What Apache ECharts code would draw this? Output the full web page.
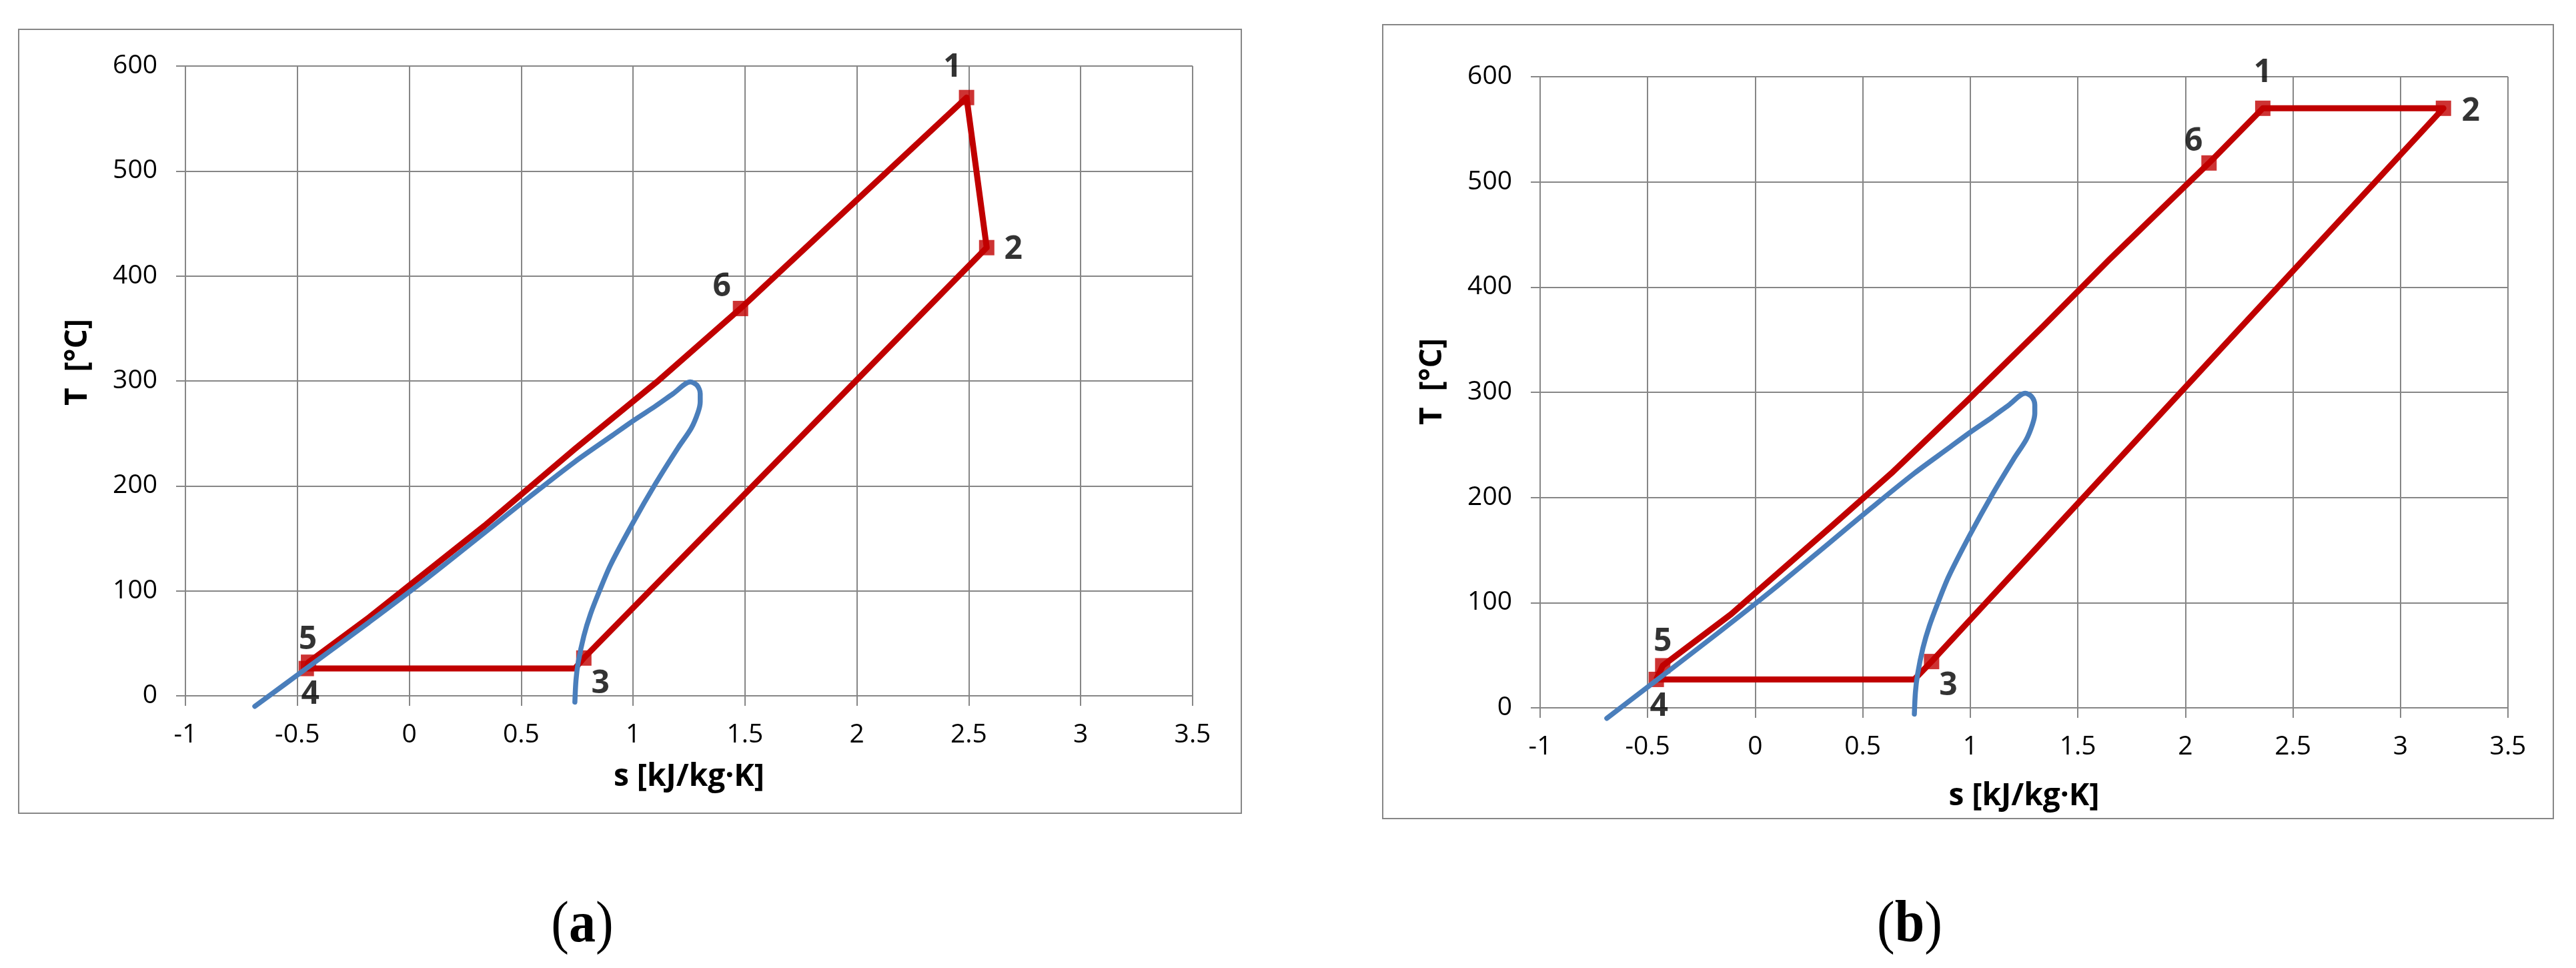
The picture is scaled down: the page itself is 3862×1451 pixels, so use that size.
<!DOCTYPE html>
<html>
<head>
<meta charset="utf-8">
<script src="https://cdn.jsdelivr.net/npm/echarts@6/dist/echarts.min.js"></script>
<style>html,body{margin:0;padding:0;background:#fff}#c{width:3862px;height:1451px}</style>
</head>
<body>
<div id="c"></div>
<script>
// ---- axis ticks and titles ----
const xTickValues = [-1, -0.5, 0, 0.5, 1, 1.5, 2, 2.5, 3, 3.5];
const yTickValues = [0, 100, 200, 300, 400, 500, 600];
const xAxisTitle = 's [kJ/kg·K]';
const yAxisTitle = 'T  [°C]';
const panelCaptions = ['a', 'b'];

// ---- saturation dome (blue), s [kJ/kg·K] and T [°C] ----
const domeS = [-0.69, -0.46, -0.18, 0.08, 0.34, 0.54, 0.74, 0.90, 1.00, 1.10, 1.18, 1.256, 1.285, 1.30, 1.30, 1.29, 1.26, 1.20, 1.10, 1.00, 0.90, 0.85, 0.81, 0.78, 0.755, 0.745, 0.74];
const domeT = [-10, 26, 70, 112, 156, 190, 223, 247, 262, 276, 288, 299, 296, 288, 280, 270, 255, 236, 202, 165, 125, 100, 78, 57, 32, 15, -6];

// ---- panel (a) cycle ----
const cycleAS = [-0.46, 0.74, 0.78, 2.58, 2.49, 1.48, 1.106, 0.739, 0.336, -0.178, -0.45, -0.46];
const cycleAT = [26, 26, 36, 427, 570, 369, 299, 235, 162, 75, 32, 26];
const stateALabels = ['1', '2', '3', '4', '5', '6'];
const stateAS = [2.49, 2.58, 0.78, -0.46, -0.45, 1.48];
const stateAT = [570, 427, 36, 26, 32, 369];

// ---- panel (b) cycle ----
const cycleBS = [-0.46, 0.74, 0.82, 3.20, 2.36, 2.11, 1.646, 1.34, 0.996, 0.633, 0.346, -0.112, -0.43, -0.46];
const cycleBT = [27, 27, 44, 570, 570, 518, 426, 363, 294, 223, 171, 89, 40, 27];
const stateBLabels = ['1', '2', '3', '4', '5', '6'];
const stateBS = [2.36, 3.20, 0.82, -0.46, -0.43, 2.11];
const stateBT = [570, 570, 44, 27, 40, 518];

// label placement (pixel offsets from marker centre)
const labelOffA = {'1': [-21, -45], '2': [40, 3], '3': [25, 39], '4': [6, 39], '5': [-1, -33], '6': [-28, -32]};
const labelOffB = {'1': [0, -53], '2': [41, 5], '3': [25, 37], '4': [4, 41], '5': [0, -36], '6': [-23, -32]};

const RED = '#C00000', BLUE = '#4A7EBB', GRID = '#868686';
const zip = (a, b) => a.map((v, i) => [v, b[i]]);

function xAxisFor(gi, gap) {
  return {
    type: 'value', gridIndex: gi,
    min: xTickValues[0], max: xTickValues[xTickValues.length - 1],
    interval: xTickValues[1] - xTickValues[0],
    name: xAxisTitle, nameLocation: 'middle', nameGap: gap,
    nameTextStyle: {fontFamily: 'Open Sans', fontWeight: 'bold', fontSize: 46, color: '#000'},
    axisLine: {show: true, onZero: false, lineStyle: {color: GRID, width: 2}},
    axisTick: {show: true, length: 15, lineStyle: {color: GRID, width: 2}},
    splitLine: {show: true, lineStyle: {color: GRID, width: 2}},
    axisLabel: {color: '#000', fontFamily: 'Open Sans', fontSize: 39, margin: 39, showMinLabel: true, showMaxLabel: true, hideOverlap: false}
  };
}
function yAxisFor(gi, gap, shift) {
  return {
    type: 'value', gridIndex: gi,
    min: yTickValues[0], max: yTickValues[yTickValues.length - 1],
    interval: yTickValues[1] - yTickValues[0],
    name: yAxisTitle, nameLocation: 'middle', nameGap: gap,
    nameTextStyle: {fontFamily: 'Open Sans', fontWeight: 'bold', fontSize: 46, color: '#000', padding: [0, 0, 0, shift]},
    axisLine: {show: true, onZero: false, lineStyle: {color: GRID, width: 2}},
    axisTick: {show: true, length: 14, lineStyle: {color: GRID, width: 2}},
    splitLine: {show: true, lineStyle: {color: GRID, width: 2}},
    axisLabel: {color: '#000', fontFamily: 'Open Sans', fontSize: 39, margin: 42, showMinLabel: true, showMaxLabel: true, hideOverlap: false}
  };
}
function stateSeries(gi, S, T, L, off) {
  return {
    type: 'scatter', xAxisIndex: gi, yAxisIndex: gi, z: 3,
    symbol: 'rect', symbolSize: 23, itemStyle: {color: RED},
    label: {show: true, position: 'inside', formatter: '{b}', color: '#000', textBorderWidth: 0,
            fontFamily: 'Open Sans', fontWeight: 'bold', fontSize: 48},
    data: S.map((s, i) => ({name: L[i], value: [s, T[i]], label: {offset: off[L[i]]}}))
  };
}
function cycleSeries(gi, S, T) {
  return {type: 'line', xAxisIndex: gi, yAxisIndex: gi, z: 2, symbol: 'none', showSymbol: false,
          lineStyle: {color: RED, width: 9, join: 'round'}, data: zip(S, T), clip: false};
}
function domeSeries(gi) {
  return {type: 'line', xAxisIndex: gi, yAxisIndex: gi, z: 4, symbol: 'none', showSymbol: false, smooth: 0.3,
          lineStyle: {color: BLUE, width: 7.5, cap: 'round'}, data: zip(domeS, domeT), clip: false};
}

const chart = echarts.init(document.getElementById('c'), null, {renderer: 'canvas'});
chart.setOption({
  animation: false,
  backgroundColor: '#fff',
  grid: [
    {left: 278, top: 99, width: 1510, height: 944},
    {left: 2309, top: 115, width: 1451, height: 946}
  ],
  xAxis: [xAxisFor(0, 99), xAxisFor(1, 110)],
  yAxis: [yAxisFor(0, 138, 56), yAxisFor(1, 138, 32)],
  series: [
    cycleSeries(0, cycleAS, cycleAT), stateSeries(0, stateAS, stateAT, stateALabels, labelOffA), domeSeries(0),
    cycleSeries(1, cycleBS, cycleBT), stateSeries(1, stateBS, stateBT, stateBLabels, labelOffB), domeSeries(1)
  ],
  graphic: [
    {type: 'rect', z: -10, shape: {x: 28, y: 44, width: 1833, height: 1175}, style: {fill: 'none', stroke: GRID, lineWidth: 2}},
    {type: 'rect', z: -10, shape: {x: 2073, y: 37, width: 1755, height: 1190}, style: {fill: 'none', stroke: GRID, lineWidth: 2}},
    {type: 'text', x: 873, y: 1388, scaleY: 1.12,
     style: {text: '{p|(}{b|' + panelCaptions[0] + '}{p|)}', align: 'center', verticalAlign: 'middle',
             rich: {p: {fontFamily: 'Liberation Serif', fontSize: 80, fill: '#000'},
                    b: {fontFamily: 'Liberation Serif', fontSize: 80, fontWeight: 'bold', fill: '#000'}}}},
    {type: 'text', x: 2863, y: 1388, scaleY: 1.12,
     style: {text: '{p|(}{b|' + panelCaptions[1] + '}{p|)}', align: 'center', verticalAlign: 'middle',
             rich: {p: {fontFamily: 'Liberation Serif', fontSize: 80, fill: '#000'},
                    b: {fontFamily: 'Liberation Serif', fontSize: 80, fontWeight: 'bold', fill: '#000'}}}}
  ]
});
</script>
</body>
</html>
